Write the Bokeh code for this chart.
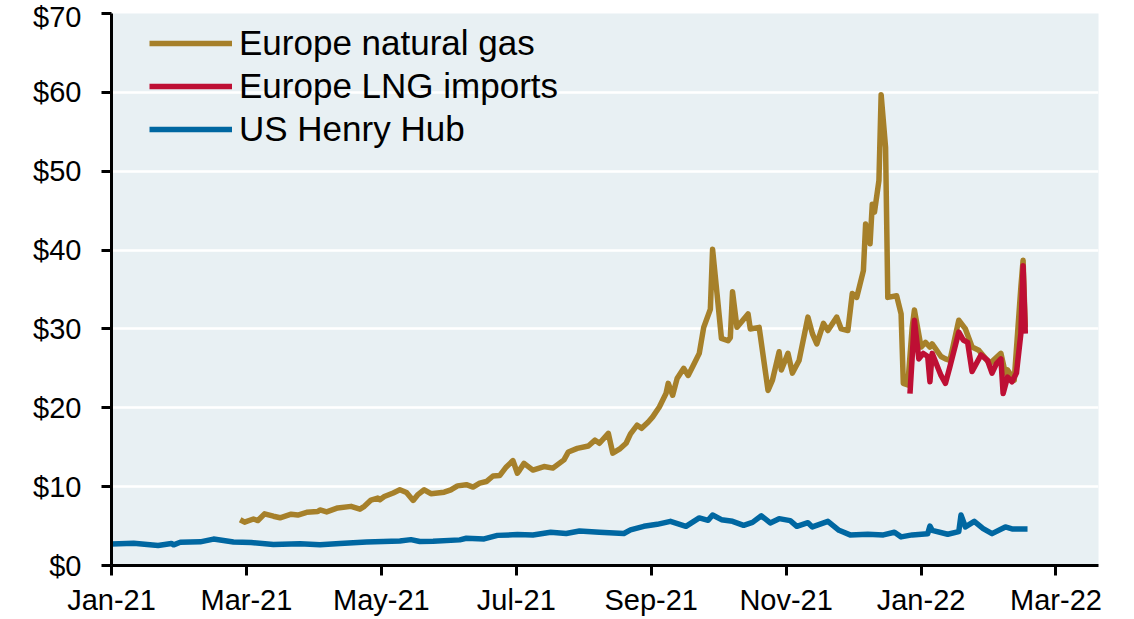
from bokeh.plotting import figure
from bokeh.models import FixedTicker, Legend, LegendItem, Range1d
from bokeh.embed import file_html
from bokeh.resources import INLINE

# Days since 2021-01-01
hh_day = [0, 10, 21, 27, 28, 31, 40, 46, 55, 63, 73, 85, 94, 103, 115, 130, 135, 139, 145, 157,
          160, 168, 174, 183, 190, 198, 205, 211, 220, 231, 234, 240, 246, 252, 259, 265, 269, 271, 275, 280,
          285, 289, 293, 297, 301, 306, 309, 314, 316, 323, 328, 333, 341, 348, 353, 356, 361, 368, 369, 370,
          377, 382, 383, 385, 389, 393, 397, 403, 406, 413]
hh_val = [2.74, 2.82, 2.53, 2.80, 2.62, 2.95, 3.00, 3.35, 2.99, 2.92, 2.65, 2.76, 2.62, 2.80, 2.98, 3.12, 3.28, 3.04, 3.07, 3.25,
          3.45, 3.37, 3.82, 3.92, 3.86, 4.22, 4.06, 4.38, 4.21, 4.06, 4.51, 4.97, 5.22, 5.60, 4.97, 6.03, 5.73, 6.40, 5.81, 5.60,
          5.09, 5.47, 6.30, 5.40, 5.94, 5.69, 4.97, 5.43, 4.89, 5.60, 4.46, 3.88, 3.96, 3.88, 4.21, 3.63, 3.88, 4.04, 5.0, 4.46,
          3.96, 4.30, 6.40, 4.89, 5.60, 4.68, 4.04, 4.89, 4.64, 4.64]

eu_day = [58, 60, 64, 66, 69, 73, 76, 81, 84, 88, 93, 94, 97, 102, 108, 112, 114, 117, 120, 121,
          123, 127, 130, 133, 136, 138, 141, 144, 150, 153, 156, 160, 163, 166, 169, 172, 175, 178, 181, 183,
          184, 186, 190, 195, 199, 204, 206, 210, 215, 218, 220, 224, 226, 229, 232, 234, 237, 239, 242, 244,
          247, 250, 251, 253, 255, 258, 260, 262, 265, 267, 270, 271, 273, 275, 278, 279, 280, 282, 287, 288,
          292, 296, 298, 301, 302, 305, 307, 310, 314, 316, 318, 321, 323, 327, 329, 332, 334, 336, 339, 340,
          342, 343, 344, 346, 347, 349, 350, 354, 356, 357, 359, 361, 362, 365, 367, 369, 370, 374, 376, 378,
          382, 385, 388, 391, 396, 401, 403, 404, 407, 410, 411, 412]
eu_val = [5.8, 5.5, 5.9, 5.7, 6.55, 6.25, 6.05, 6.5, 6.4, 6.75, 6.85, 7.05, 6.8, 7.3, 7.5, 7.15, 7.5, 8.3, 8.55, 8.35,
          8.75, 9.2, 9.6, 9.25, 8.25, 8.95, 9.6, 9.1, 9.3, 9.6, 10.1, 10.25, 9.95, 10.45, 10.65, 11.35, 11.4, 12.5, 13.3, 11.7,
          12.1, 12.95, 12.1, 12.55, 12.35, 13.4, 14.4, 14.85, 15.15, 15.9, 15.5, 16.75, 14.25, 14.75, 15.5, 16.7, 17.8, 17.4, 18.2, 18.85,
          20.1, 21.8, 23.1, 21.6, 23.7, 25.0, 24.1, 25.2, 26.9, 30.2, 32.5, 40.1, 34.5, 28.8, 28.5, 28.9, 34.7, 30.2, 31.9, 30.0,
          30.2, 22.2, 23.5, 27.1, 24.8, 26.9, 24.4, 26.0, 31.5, 29.4, 28.1, 30.7, 29.8, 31.5, 30.0, 29.8, 34.5, 34.0, 37.4, 43.3,
          40.8, 45.8, 44.8, 48.8, 59.7, 53.0, 34.0, 34.2, 31.9, 23.1, 22.9, 30.2, 32.4, 27.7, 28.3, 27.7, 28.1, 26.5, 26.2, 26.0,
          31.1, 30.0, 27.7, 27.3, 25.6, 26.9, 24.4, 24.8, 23.5, 35.3, 38.7, 30.2]

lng_day = [360, 362, 364, 366, 368, 369, 370, 373, 374, 376, 378, 382, 384, 386, 388, 392, 395, 397, 399, 401,
           402, 404, 406, 408, 410, 411, 412]
lng_val = [21.8, 31.1, 26.2, 26.9, 26.5, 23.3, 26.9, 24.8, 24.1, 23.1, 25.2, 29.6, 28.6, 28.3, 24.6, 26.7, 26.0, 24.4, 25.6, 26.2,
           21.8, 23.9, 23.3, 24.4, 29.4, 38.0, 29.4]

series_names = ["Europe natural gas", "Europe LNG imports", "US Henry Hub"]
series_colors = ["#a6802a", "#be0f34", "#0067a1"]

x_tick_labels = ["Jan-21", "Mar-21", "May-21", "Jul-21", "Sep-21", "Nov-21", "Jan-22", "Mar-22"]
y_ticks = [0, 10, 20, 30, 40, 50, 60, 70]
y_tick_labels = ["$0", "$10", "$20", "$30", "$40", "$50", "$60", "$70"]

FONT = "Liberation Sans"

p = figure(width=1126, height=618, x_range=Range1d(0, 445), y_range=Range1d(0, 70),
           output_backend="svg", toolbar_location=None,
           min_border_left=111, min_border_right=28, min_border_top=13, min_border_bottom=53)
p.background_fill_color = "#e8f0f3"
p.border_fill_color = "white"
p.outline_line_color = None

x_ticks = [i * 365.0 / 6.0 for i in range(len(x_tick_labels))]
p.xaxis.ticker = FixedTicker(ticks=x_ticks)
p.xaxis.major_label_overrides = {t: l for t, l in zip(x_ticks, x_tick_labels)}
p.yaxis.ticker = FixedTicker(ticks=y_ticks)
p.yaxis.major_label_overrides = {t: l for t, l in zip(y_ticks, y_tick_labels)}

for ax in (p.xaxis, p.yaxis):
    ax.axis_line_color = "black"
    ax.axis_line_width = 3
    ax.major_tick_line_color = "black"
    ax.major_tick_line_width = 3
    ax.major_tick_out = 10
    ax.major_tick_in = 0
    ax.minor_tick_line_color = None
    ax.major_label_text_font = FONT
    ax.major_label_text_font_size = "29px"
    ax.major_label_text_color = "black"
p.xaxis.major_label_standoff = 8
p.yaxis.major_label_standoff = 20

p.xgrid.grid_line_color = None
p.ygrid.grid_line_color = "white"
p.ygrid.grid_line_width = 2.5

r_eu = p.line(eu_day, eu_val, line_color=series_colors[0], line_width=5.5, line_join="round")
r_lng = p.line(lng_day, lng_val, line_color=series_colors[1], line_width=5.5, line_join="round")
r_hh = p.line(hh_day, hh_val, line_color=series_colors[2], line_width=5.5, line_join="round")

legend = Legend(items=[LegendItem(label=series_names[0], renderers=[r_eu]),
                       LegendItem(label=series_names[1], renderers=[r_lng]),
                       LegendItem(label=series_names[2], renderers=[r_hh])],
                location=(38, 416), orientation="vertical")
legend.background_fill_alpha = 0
legend.border_line_color = None
legend.padding = 0
legend.margin = 0
legend.spacing = 3
legend.glyph_width = 83
legend.glyph_height = 40
legend.label_height = 40
legend.label_standoff = 7
legend.label_text_font = FONT
legend.label_text_font_size = "35px"
legend.label_text_color = "black"
p.add_layout(legend, "center")

open("out.html", "w").write(file_html(p, INLINE))
